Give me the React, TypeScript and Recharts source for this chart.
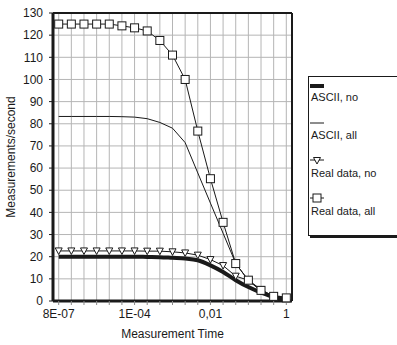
import { CartesianGrid, Legend, Line, LineChart, ReferenceLine, XAxis, YAxis } from "recharts";

// measurement steps on the log time axis (evenly spaced)
const steps = [0, 1, 2, 3, 4, 5, 6, 7, 8, 9, 10, 11, 12, 13, 14, 15, 16, 17, 18];
const timeLabels = ["8E-07", "", "", "", "", "", "1E-04", "", "", "", "", "", "0,01", "", "", "", "", "", "1"];
const yTicks = [0, 10, 20, 30, 40, 50, 60, 70, 80, 90, 100, 110, 120, 130];

const asciiNo = [20, 20, 20, 20, 20, 20, 20, 19.9, 19.8, 19.5, 19.2, 18.4, 16.1, 13.1, 9.4, 6.3, 3.8, 1.8, 1.1];
const asciiAll = [83.3, 83.3, 83.3, 83.3, 83.3, 83.2, 83, 82.3, 80.6, 78, 71.5, 57.8, 44.2, 30.6, 17, 9.2, 4.6, 2, 1.3];
const realNo = [22.6, 22.6, 22.6, 22.6, 22.6, 22.6, 22.6, 22.5, 22.5, 22.2, 21.7, 20.7, 18.7, 16, 11.2, 9.4, 5.2, 2.1, 1.5];
const realAll = [125, 125, 125, 125, 125, 124.2, 123.3, 121.9, 117.6, 111, 100, 76.7, 55.2, 35.5, 16.9, 9.4, 4.8, 2.1, 1.4];

const data = steps.map((s, i) => ({
  step: s,
  asciiNo: asciiNo[i],
  asciiAll: asciiAll[i],
  realNo: realNo[i],
  realAll: realAll[i],
}));

const ink = "#1a1a1a";
const font = "'Liberation Sans', Arial, sans-serif";

const SquareDot = (props: any) => {
  const { cx, cy, index } = props;
  return <rect key={`sq-${index}`} x={cx - 4} y={cy - 4} width={8} height={8} fill="#fff" stroke={ink} strokeWidth={1} />;
};

const TriangleDot = (props: any) => {
  const { cx, cy, index } = props;
  return (
    <polygon
      key={`tri-${index}`}
      points={`${cx - 3.5},${cy - 3} ${cx + 3.5},${cy - 3} ${cx},${cy + 3.5}`}
      fill="#fff"
      stroke={ink}
      strokeWidth={1}
    />
  );
};

const LegendBox = () => (
  <div
    style={{
      width: 92,
      height: 158,
      border: `1px solid ${ink}`,
      boxShadow: `2px 2px 0 ${ink}`,
      background: "#fff",
      fontFamily: font,
      fontSize: 11,
      color: ink,
      position: "relative",
    }}
  >
    <svg width={30} height={160} style={{ position: "absolute", left: 0, top: 0 }}>
      <line x1={1} x2={15} y1={9} y2={9} stroke={ink} strokeWidth={4} />
      <line x1={1} x2={15} y1={46} y2={46} stroke={ink} strokeWidth={1} />
      <line x1={1} x2={15} y1={83} y2={83} stroke={ink} strokeWidth={1} />
      <polygon points="4.5,80.5 11.5,80.5 8,87" fill="#fff" stroke={ink} />
      <line x1={1} x2={15} y1={121} y2={121} stroke={ink} strokeWidth={1} />
      <rect x={4} y={117} width={8} height={8} fill="#fff" stroke={ink} />
    </svg>
    <div style={{ position: "absolute", left: 2, top: 14 }}>ASCII, no</div>
    <div style={{ position: "absolute", left: 2, top: 52 }}>ASCII, all</div>
    <div style={{ position: "absolute", left: 2, top: 90 }}>Real data, no</div>
    <div style={{ position: "absolute", left: 2, top: 128 }}>Real data, all</div>
  </div>
);

const App = () => {
  return (
    <div style={{ position: "absolute", left: 0, top: 0, width: 397, height: 345, overflow: "hidden", background: "#fff" }}>
      <LineChart width={397} height={345} data={data} margin={{ top: 13, right: 105, bottom: 0, left: 0 }}>
        <CartesianGrid stroke="#b5b5b5" strokeWidth={1} />
        <XAxis
          dataKey="step"
          type="number"
          domain={[-0.45, 18.45]}
          ticks={steps}
          interval={0}
          tickFormatter={(v) => timeLabels[v]}
          height={44}
          axisLine={{ stroke: ink, strokeWidth: 3 }}
          tickLine={{ stroke: "#888" }}
          tickSize={4}
          tickMargin={4}
          tick={{ fill: ink, fontSize: 12, fontFamily: font }}
          label={{ value: "Measurement Time", position: "insideBottom", offset: 7, fill: ink, fontSize: 12, fontFamily: font }}
        />
        <YAxis
          domain={[0, 130]}
          ticks={yTicks}
          interval={0}
          width={53}
          axisLine={{ stroke: ink, strokeWidth: 3 }}
          tickLine={{ stroke: ink }}
          tickSize={4}
          tickMargin={6}
          tick={{ fill: ink, fontSize: 12, fontFamily: font }}
          label={{ value: "Measurements/second", angle: -90, position: "center", dx: -16, fill: ink, fontSize: 12, fontFamily: font }}
        />
        <ReferenceLine y={130} stroke={ink} strokeWidth={2} />
        <ReferenceLine x={18.45} stroke={ink} strokeWidth={2} />
        <Legend layout="vertical" align="center" verticalAlign="middle" content={<LegendBox />} wrapperStyle={{ position: "absolute", left: 308, top: 76, width: 95 }} />
        <Line dataKey="asciiNo" stroke={ink} strokeWidth={4} dot={false} type="monotone" isAnimationActive={false} />
        <Line dataKey="asciiAll" stroke={ink} strokeWidth={1} dot={false} isAnimationActive={false} />
        <Line dataKey="realNo" stroke={ink} strokeWidth={1} dot={<TriangleDot />} isAnimationActive={false} />
        <Line dataKey="realAll" stroke={ink} strokeWidth={1} dot={<SquareDot />} isAnimationActive={false} />
      </LineChart>
    </div>
  );
};

export default App;
